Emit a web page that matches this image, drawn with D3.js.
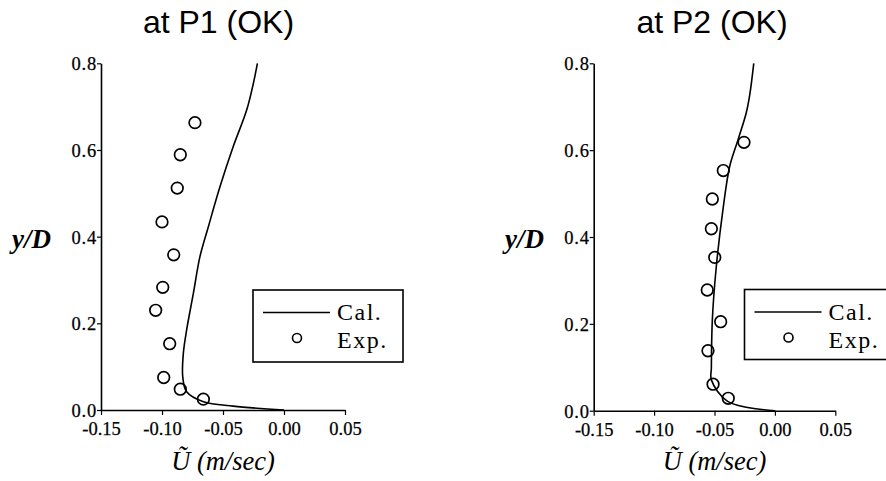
<!DOCTYPE html>
<html><head><meta charset="utf-8">
<script src="https://cdn.jsdelivr.net/npm/d3@7"></script>
<style>
body{margin:0;background:#fff;}
svg{display:block;}
</style></head>
<body>
<svg id="chart" width="886" height="481"></svg>
<script>
// ---------- data ----------
const xTicks = [-0.15, -0.10, -0.05, 0.00, 0.05];
const yTicks = [0.0, 0.2, 0.4, 0.6, 0.8];
const titles = ["at P1 (OK)", "at P2 (OK)"];
const legendLabels = ["Cal.", "Exp."];
const xTitle = "\u0168 (m/sec)";
const yTitle = "y/D";

// P1 calculated line (U, y/D)
const p1CalU = [0.000, -0.0416, -0.066, -0.0798, -0.083, -0.0825, -0.0798, -0.0743, -0.0689, -0.062, -0.0525, -0.0416, -0.0306, -0.0251, -0.0218];
const p1CalY = [0.000, 0.009, 0.019, 0.042, 0.077, 0.131, 0.185, 0.269, 0.354, 0.423, 0.515, 0.608, 0.692, 0.754, 0.800];
// P1 experiment
const p1ExpU = [-0.073, -0.085, -0.0875, -0.100, -0.0904, -0.0994, -0.1052, -0.0937, -0.0986, -0.085, -0.0661];
const p1ExpY = [0.663, 0.589, 0.512, 0.434, 0.358, 0.283, 0.230, 0.153, 0.075, 0.048, 0.025];

// P2 calculated line
const p2CalU = [0.000, -0.0388, -0.0526, -0.0526, -0.0518, -0.0485, -0.043, -0.0374, -0.0305, -0.0237, -0.0209, -0.0175];
const p2CalY = [0.000, 0.021, 0.071, 0.098, 0.209, 0.332, 0.463, 0.563, 0.624, 0.686, 0.726, 0.800];
// P2 experiment
const p2ExpU = [-0.0256, -0.0427, -0.0518, -0.0526, -0.0498, -0.056, -0.0449, -0.0554, -0.0512, -0.0386];
const p2ExpY = [0.618, 0.553, 0.4875, 0.419, 0.353, 0.278, 0.205, 0.138, 0.061, 0.0286];

// ---------- layout ----------
const panels = [
  {title: titles[0], cal: [p1CalU, p1CalY], exp: [p1ExpU, p1ExpY],
   xr: [101, 345], yr: [410, 63.3], titleX: 218.5, yLabX: 31.5,
   legend: {x: 253, y: 290, w: 150, h: 72}},
  {title: titles[1], cal: [p2CalU, p2CalY], exp: [p2ExpU, p2ExpY],
   xr: [593.7, 835.3], yr: [410.7, 63.3], titleX: 712, yLabX: 524.5,
   legend: {x: 744.5, y: 289.5, w: 160, h: 70}}
];

const svg = d3.select("#chart");
const serif = "'Liberation Serif','Times New Roman',serif";
const sans = "'Liberation Sans',Arial,sans-serif";
const fmtX = v => d3.format(".2f")(v).replace("\u2212", "-");
const fmtY = v => d3.format(".1f")(v);

panels.forEach(p => {
  const x = d3.scaleLinear().domain([-0.15, 0.05]).range(p.xr);
  const y = d3.scaleLinear().domain([0, 0.8]).range(p.yr);
  const g = svg.append("g");

  // title
  g.append("text").attr("x", p.titleX).attr("y", 33)
    .attr("text-anchor", "middle").attr("font-family", sans)
    .attr("font-size", 32).attr("fill", "#000").text(p.title);

  // axes
  const xa = d3.axisBottom(x).tickValues(xTicks).tickSize(5).tickSizeOuter(0).tickFormat(fmtX);
  const ya = d3.axisLeft(y).tickValues(yTicks).tickSize(4).tickSizeOuter(0).tickFormat(fmtY);
  const gx = g.append("g").attr("transform", `translate(0,${p.yr[0]})`).call(xa);
  const gy = g.append("g").attr("transform", `translate(${p.xr[0]},0)`).call(ya);
  [gx, gy].forEach(a => {
    a.select(".domain").attr("stroke", "#000").attr("stroke-width", 1.6);
    a.selectAll(".tick line").attr("stroke", "#000").attr("stroke-width", 1.2);
    a.selectAll(".tick text").attr("font-family", serif).attr("font-size", 18.5)
      .attr("fill", "#000").attr("stroke", "#000").attr("stroke-width", 0.25);
  });
  gx.selectAll(".tick text").attr("dy", 0).attr("y", 25);
  gy.selectAll(".tick text").attr("x", -4).attr("dy", "0.35em").attr("letter-spacing", 0.8);

  // y label
  g.append("text").attr("x", p.yLabX).attr("y", 248).attr("text-anchor", "middle")
    .attr("font-family", serif).attr("font-style", "italic").attr("font-weight", "bold")
    .attr("font-size", 27).attr("fill", "#000").text(yTitle);

  // x label
  const cx = (p.xr[0] + p.xr[1]) / 2;
  g.append("text").attr("x", cx).attr("y", 470).attr("text-anchor", "middle")
    .attr("font-family", serif).attr("font-style", "italic").attr("font-size", 26.5)
    .attr("fill", "#000").text(xTitle);

  // calc line
  const calPts = p.cal[0].map((u, i) => [u, p.cal[1][i]]);
  g.append("path").datum(calPts)
    .attr("d", d3.line().x(d => x(d[0])).y(d => y(d[1])).curve(d3.curveCatmullRom))
    .attr("fill", "none").attr("stroke", "#000").attr("stroke-width", 1.6);

  // exp circles
  const expPts = p.exp[0].map((u, i) => [u, p.exp[1][i]]);
  g.selectAll("circle.exp").data(expPts).join("circle").attr("class", "exp")
    .attr("cx", d => x(d[0])).attr("cy", d => y(d[1])).attr("r", 5.8)
    .attr("fill", "none").attr("stroke", "#000").attr("stroke-width", 1.7);

  // legend
  const L = p.legend;
  const lg = g.append("g");
  lg.append("rect").attr("x", L.x).attr("y", L.y).attr("width", L.w).attr("height", L.h)
    .attr("fill", "#fff").attr("stroke", "#000").attr("stroke-width", 1.6);
  lg.append("line").attr("x1", L.x + 10).attr("x2", L.x + 77)
    .attr("y1", L.y + 22.5).attr("y2", L.y + 22.5)
    .attr("stroke", "#000").attr("stroke-width", 1.6);
  lg.append("circle").attr("cx", L.x + 44).attr("cy", L.y + 48).attr("r", 4.5)
    .attr("fill", "none").attr("stroke", "#000").attr("stroke-width", 1.6);
  lg.append("text").attr("x", L.x + 84).attr("y", L.y + 30)
    .attr("font-family", serif).attr("font-size", 24).attr("letter-spacing", 1.5)
    .attr("fill", "#000").text(legendLabels[0]);
  lg.append("text").attr("x", L.x + 84).attr("y", L.y + 58)
    .attr("font-family", serif).attr("font-size", 24).attr("letter-spacing", 1.5)
    .attr("fill", "#000").text(legendLabels[1]);
});
</script>
</body></html>
